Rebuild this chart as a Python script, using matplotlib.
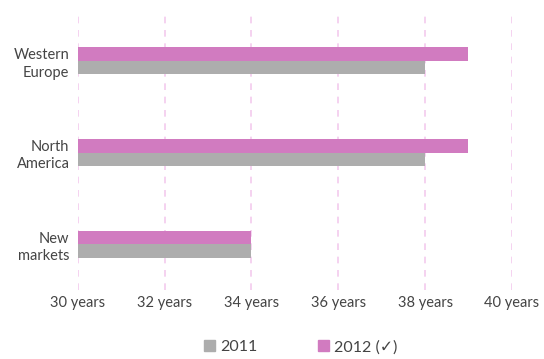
import matplotlib.pyplot as plt
from matplotlib.patches import Patch
import numpy as np

regions = ["New\nmarkets", "North\nAmerica", "Western\nEurope"]
y2011 = [34, 38, 38]
y2012 = [34, 39, 39]
xticks = [30, 32, 34, 36, 38, 40]

grey = "#adadad"
pink = "#d17bc0"
txt = "#444444"

plt.rcParams['font.family'] = ['Lato', 'DejaVu Sans']

fig = plt.figure(figsize=(5.44, 3.59), dpi=100)
ax = fig.add_axes([0.143, 0.192, 0.798, 0.766])

pos = np.arange(len(regions))
h = 0.148
ax.barh(pos - h / 2, [v - 30 for v in y2011], left=30, height=h, color=grey, zorder=3)
ax.barh(pos + h / 2, [v - 30 for v in y2012], left=30, height=h, color=pink, zorder=3)

ax.set_xlim(30, 40)
ax.set_ylim(-0.5, 2.5)
ax.set_xticks(xticks)
ax.set_xticklabels([f"{t} years" for t in xticks], color=txt, fontsize=10.5)
ax.set_yticks(pos)
ax.set_yticklabels(regions, color=txt, fontsize=10.5, linespacing=1.3)
ax.tick_params(length=0, pad=6)
ax.tick_params(axis='x', pad=4)
for s in ax.spines.values():
    s.set_visible(False)
ax.grid(axis='x', color="#f4cbee", linestyle=(0, (4, 4)), linewidth=1.2, zorder=0)

handles = [Patch(color=grey), Patch(color=pink)]
fig.legend(handles, ["2011", "2012 (\u2713)"], loc='center', ncol=2,
           bbox_to_anchor=(0.553, 0.033), frameon=False, fontsize=11.5,
           handlelength=0.7, handleheight=0.7, handletextpad=0.3,
           columnspacing=3.8, labelcolor=txt)

fig.savefig("out.png", dpi=100)
